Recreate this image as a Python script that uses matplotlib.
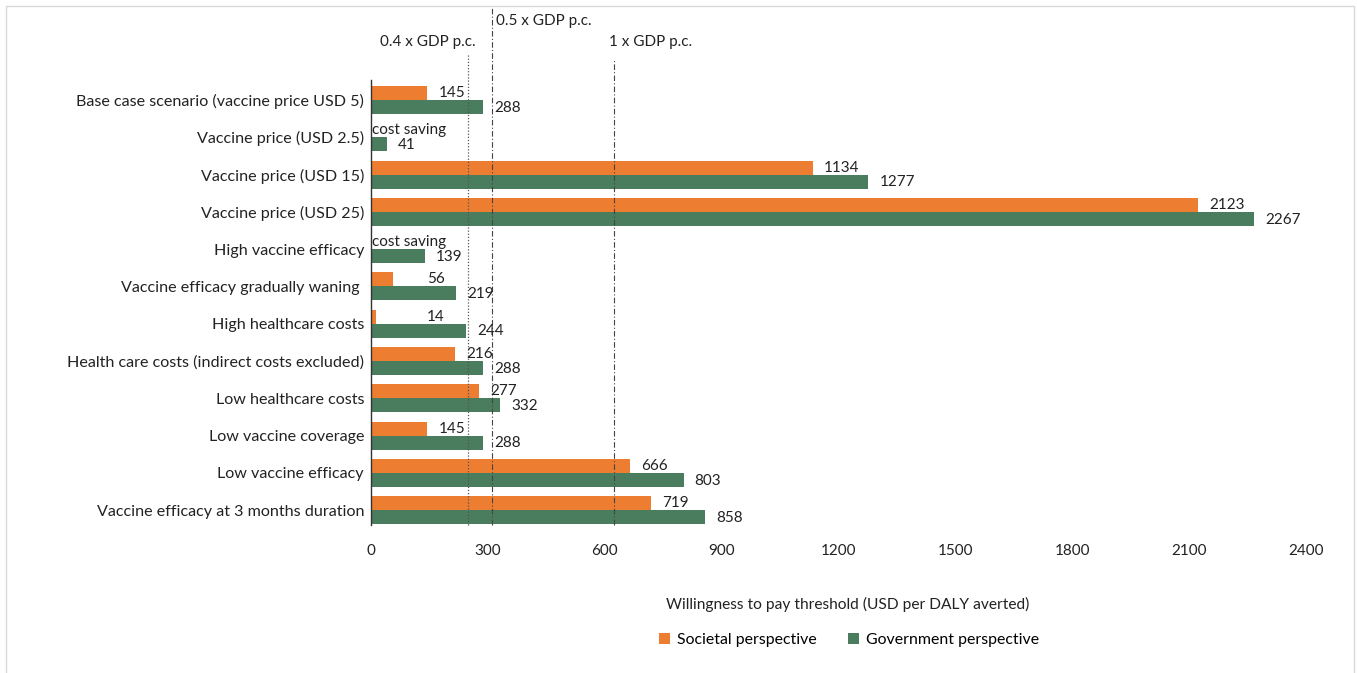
import matplotlib
matplotlib.use("Agg")
import matplotlib.pyplot as plt
from matplotlib.patches import Rectangle
import numpy as np

plt.rcParams['font.family'] = ['Lato', 'DejaVu Sans']

categories = [
    "Base case scenario (vaccine price USD 5)",
    "Vaccine price (USD 2.5)",
    "Vaccine price (USD 15)",
    "Vaccine price (USD 25)",
    "High vaccine efficacy",
    "Vaccine efficacy gradually waning ",
    "High healthcare costs",
    "Health care costs (indirect costs excluded)",
    "Low healthcare costs",
    "Low vaccine coverage",
    "Low vaccine efficacy",
    "Vaccine efficacy at 3 months duration",
]
societal = [145, None, 1134, 2123, None, 56, 14, 216, 277, 145, 666, 719]
government = [288, 41, 1277, 2267, 139, 219, 244, 288, 332, 288, 803, 858]
thresholds = [249, 311, 623]
threshold_labels = ["0.4 x GDP p.c.", "0.5 x GDP p.c.", "1 x GDP p.c."]
xticks = [0, 300, 600, 900, 1200, 1500, 1800, 2100, 2400]

ORANGE = "#ED7D31"
GREEN = "#4A7C5E"
TXT = "#222222"

fig = plt.figure(figsize=(13.57, 6.73), dpi=100)
ax = fig.add_axes([371/1357, 1-525/673, (1306-371)/1357, (525-80)/673])

ROW = 37.27  # px per category row
Y0 = -0.54   # data y at axes top (px 80)
def py(px):
    return Y0 - (80 - px) / ROW

y = np.arange(len(categories))
h = 0.375
soc_vals = [v if v is not None else 0 for v in societal]
ax.barh(y - h/2, soc_vals, height=h, color=ORANGE, label="Societal perspective")
ax.barh(y + h/2, government, height=h, color=GREEN, label="Government perspective")

for i, v in enumerate(societal):
    if v is None:
        ax.text(2, i - h/2, "cost saving", ha="left", va="center", fontsize=11, color=TXT)
    else:
        xpos = max(v, 115)
        ax.text(xpos + 28, i - h/2, str(v), ha="left", va="center", fontsize=11, color=TXT)
for i, v in enumerate(government):
    ax.text(v + 28, i + h/2 + 0.02, str(v), ha="left", va="center", fontsize=11, color=TXT)

ax.set_xlim(0, 2400)
ax.set_ylim(11.4, Y0)
ax.set_yticks(y)
ax.set_yticklabels(categories, fontsize=11.6)
ax.set_xticks(xticks)
ax.set_xticklabels([str(t) for t in xticks], fontsize=11)
ax.tick_params(axis='both', length=0, colors=TXT)
ax.tick_params(axis='x', pad=14)
ax.tick_params(axis='y', pad=5)
for s in ["top", "right", "bottom"]:
    ax.spines[s].set_visible(False)
ax.spines["left"].set_color("#333333")
ax.spines["left"].set_linewidth(1.0)

# threshold lines
ax.plot([thresholds[0]]*2, [11.4, py(55)], color="#555555", lw=0.9, ls=(0, (1, 1.5)), clip_on=False)
ax.plot([thresholds[1]]*2, [11.4, py(8)], color="#444444", lw=0.8, ls=(0, (5, 2, 1, 2)), clip_on=False)
ax.plot([thresholds[2]]*2, [11.4, py(59)], color="#444444", lw=0.8, ls=(0, (5, 2, 1, 2)), clip_on=False)

ax.text((428-371)/0.3896, py(42), threshold_labels[0], ha="center", va="center", fontsize=11, color=TXT, clip_on=False)
ax.text((544-371)/0.3896, py(21), threshold_labels[1], ha="center", va="center", fontsize=11, color=TXT, clip_on=False)
ax.text((651-371)/0.3896, py(42), threshold_labels[2], ha="center", va="center", fontsize=11, color=TXT, clip_on=False)

fig.text(848/1357, 1-604/673, "Willingness to pay threshold (USD per DALY averted)", ha="center", va="center", fontsize=11.2, color=TXT)

handles, labels = ax.get_legend_handles_labels()
fig.legend(handles, labels, loc="center", bbox_to_anchor=(849/1357, 1-640/673), ncol=2, frameon=False,
           fontsize=11.4, handlelength=0.7, handleheight=0.7, columnspacing=2.0, handletextpad=0.4)

# outer frame
fig.patches.append(Rectangle((6/1357, -0.01), (1354-6)/1357, 1-6/673 + 0.01, transform=fig.transFigure,
                             fill=False, edgecolor="#D9D9D9", lw=1.0))

fig.savefig("out.png", dpi=100)
